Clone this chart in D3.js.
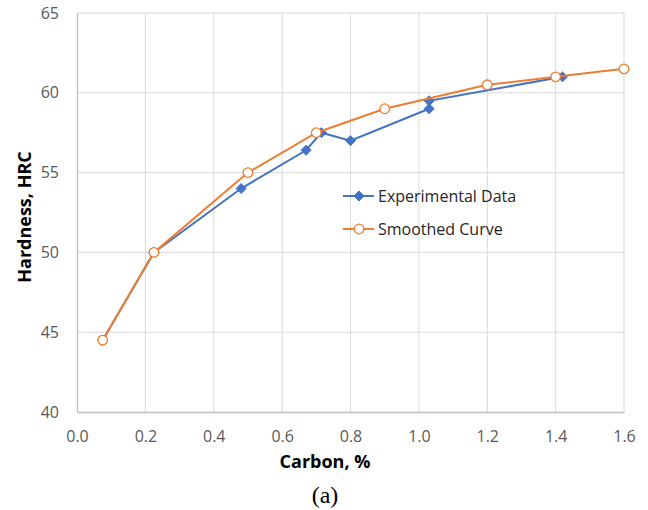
<!DOCTYPE html>
<html><head><meta charset="utf-8">
<script src="https://cdn.jsdelivr.net/npm/d3@7/dist/d3.min.js"></script>
<style>body{margin:0;background:#fff}svg{display:block}</style>
</head><body>
<svg id="c" width="648" height="510"></svg>
<script>
const expX = [0.075, 0.225, 0.48, 0.67, 0.715, 0.80, 1.03, 1.03, 1.42];
const expY = [44.5, 50, 54, 56.4, 57.5, 57, 59, 59.5, 61];
const smX = [0.075, 0.225, 0.5, 0.7, 0.9, 1.2, 1.4, 1.6];
const smY = [44.5, 50, 55, 57.5, 59, 60.5, 61, 61.5];
const xTicks = [0, 0.2, 0.4, 0.6, 0.8, 1.0, 1.2, 1.4, 1.6];
const yTicks = [40, 45, 50, 55, 60, 65];
const seriesNames = ["Experimental Data", "Smoothed Curve"];

const svg = d3.select("#c");
const L = 77, R = 624, T = 13, B = 412;
const x = d3.scaleLinear().domain([0, 1.6]).range([L, R]);
const y = d3.scaleLinear().domain([40, 65]).range([B, T]);
const blue = "#4472C4", orange = "#ED7D31";
const font = "'Open Sans', sans-serif";

// gridlines
svg.append("g").selectAll("line.v").data(xTicks.slice(1)).join("line")
  .attr("x1", d => x(d)).attr("x2", d => x(d)).attr("y1", T).attr("y2", B)
  .attr("stroke", "#d9d9d9").attr("stroke-width", 1);
svg.append("g").selectAll("line.h").data(yTicks.slice(1)).join("line")
  .attr("x1", L).attr("x2", R).attr("y1", d => y(d)).attr("y2", d => y(d))
  .attr("stroke", "#d9d9d9").attr("stroke-width", 1);

// axes
const xAxis = svg.append("g").attr("transform", `translate(0,${B})`)
  .call(d3.axisBottom(x).tickValues(xTicks).tickFormat(d3.format(".1f")).tickSize(0).tickPadding(19));
const yAxis = svg.append("g").attr("transform", `translate(${L},0)`)
  .call(d3.axisLeft(y).tickValues(yTicks).tickSize(0).tickPadding(18));
[xAxis, yAxis].forEach(a => {
  a.select(".domain").attr("stroke", "#bfbfbf").attr("stroke-width", 1.3);
  a.selectAll("text").attr("fill", "#595959").style("font-family", font).style("font-size", "16px");
});

// lines
const line = d3.line().x(d => x(d[0])).y(d => y(d[1]));
const expPts = expX.map((v, i) => [v, expY[i]]);
const smPts = smX.map((v, i) => [v, smY[i]]);

svg.append("path").datum(expPts).attr("d", line).attr("fill", "none")
  .attr("stroke", blue).attr("stroke-width", 2);
const diamond = d3.symbol().type(d3.symbolDiamond2).size(64);
svg.append("g").selectAll("path").data(expPts).join("path")
  .attr("d", diamond).attr("transform", d => `translate(${x(d[0])},${y(d[1])})`)
  .attr("fill", blue).attr("stroke", blue).attr("stroke-width", 1);

svg.append("path").datum(smPts).attr("d", line).attr("fill", "none")
  .attr("stroke", orange).attr("stroke-width", 2);
svg.append("g").selectAll("circle").data(smPts).join("circle")
  .attr("cx", d => x(d[0])).attr("cy", d => y(d[1])).attr("r", 4.8)
  .attr("fill", "#fff").attr("stroke", orange).attr("stroke-width", 1.3);

// legend
const leg = svg.append("g");
[0, 1].forEach(i => {
  const ly = 196 + i * 33;
  const col = i === 0 ? blue : orange;
  leg.append("line").attr("x1", 343).attr("x2", 374).attr("y1", ly).attr("y2", ly)
    .attr("stroke", col).attr("stroke-width", 2);
  if (i === 0) {
    leg.append("path").attr("d", diamond).attr("transform", `translate(359,${ly})`)
      .attr("fill", blue).attr("stroke", blue);
  } else {
    leg.append("circle").attr("cx", 359).attr("cy", ly).attr("r", 4.8)
      .attr("fill", "#fff").attr("stroke", orange).attr("stroke-width", 1.3);
  }
  leg.append("text").attr("x", 378).attr("y", ly + 5.5).text(seriesNames[i])
    .attr("fill", "#262626").style("font-family", font).style("font-size", "16px");
});

// titles
svg.append("text").attr("x", 325).attr("y", 468).attr("text-anchor", "middle")
  .text("Carbon, %").style("font-family", font).style("font-size", "18px").style("font-weight", "bold");
svg.append("text").attr("transform", "translate(31,217) rotate(-90)").attr("text-anchor", "middle")
  .text("Hardness, HRC").style("font-family", font).style("font-size", "18px").style("font-weight", "bold");
svg.append("text").attr("x", 325).attr("y", 503).attr("text-anchor", "middle")
  .text("(a)").style("font-family", "'Liberation Serif', serif").style("font-size", "24px");
</script>
</body></html>
